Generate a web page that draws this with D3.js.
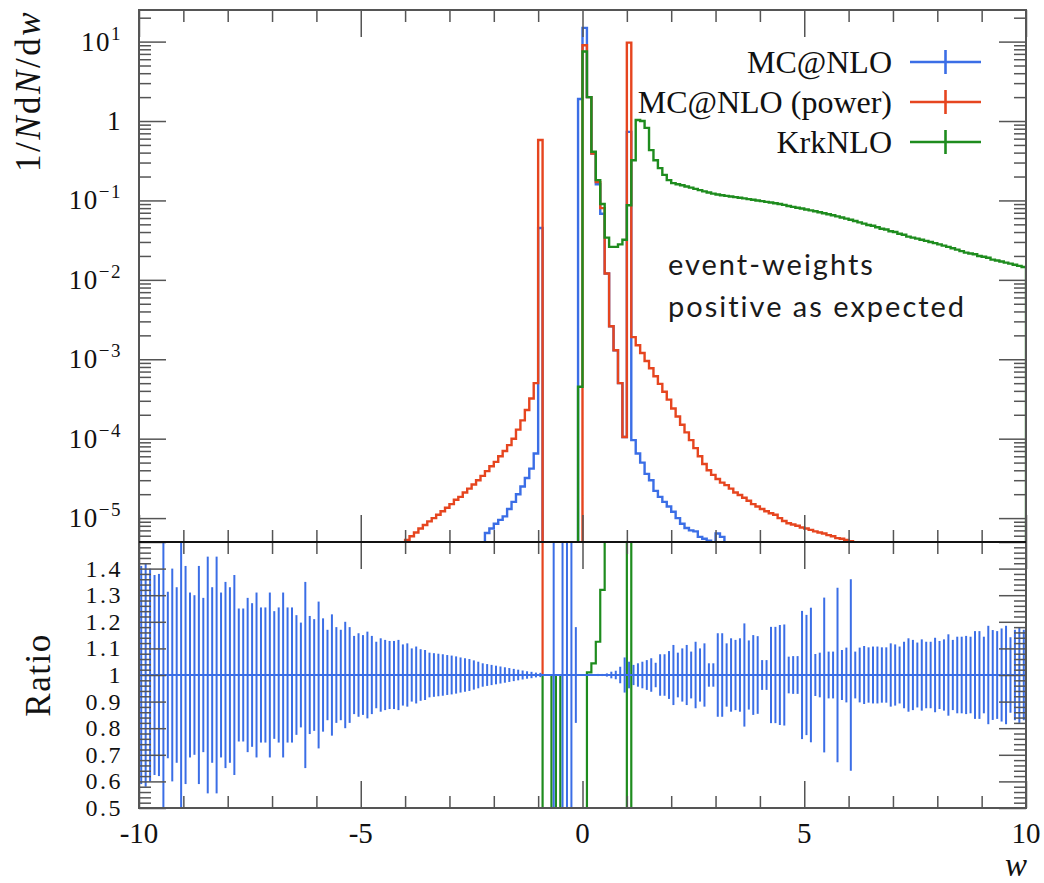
<!DOCTYPE html>
<html><head><meta charset="utf-8">
<script src="https://cdn.jsdelivr.net/npm/d3@7"></script>
<style>
body{margin:0;background:#fff}
.serif{font-family:"Liberation Serif","DejaVu Serif",serif;}
</style></head><body>
<svg id="chart" width="1044" height="883"></svg>
<script>
// ---- histogram data (bin width 0.1, values per bin starting at a lower edge) ----
const binWidth = 0.1;

const mcnloStart = -2.2;
const mcnloValues = [
  6.5e-6, 7.4e-6, 8.5e-6, 9.5e-6, 1.05e-5, 1.3e-5, 1.6e-5, 2.0e-5, 2.5e-5, 3.2e-5, 4.2e-5, 6.5e-5, // -2.2 .. -1.0
  0.045,                                                   // -1.0 .. -0.9
  0, 0, 0, 0, 0, 0, 0, 0,                                  // -0.9 .. -0.1
  1.89, 14.9, 2.0, 0.39, 0.16, 0.068,                      // -0.1 .. 0.5
  0.012, 2.6e-3, 1.3e-3, 5e-4, 1.05e-4,                    // 0.5 .. 1.0
  0.73,                                                    // 1.0 .. 1.1
  9.6e-5, 6.5e-5, 5.0e-5, 3.6e-5, 3.0e-5, 2.2e-5, 1.85e-5, 1.6e-5, 1.4e-5, 1.2e-5,
  1.0e-5, 8.5e-6, 7.5e-6, 7.0e-6, 6.8e-6, 5.8e-6, 5.5e-6, 5.2e-6, 4.5e-6, 6.4e-6, 5.8e-6
];

const powerStart = -4.0;
const powerValues = [
  5.3e-6, 5.9e-6, 6.6e-6, 7.4e-6, 8.2e-6, 9.1e-6, 1.0e-5, 1.1e-5, 1.22e-5, 1.35e-5,
  1.5e-5, 1.7e-5, 1.85e-5, 2.1e-5, 2.35e-5, 2.65e-5, 3.0e-5, 3.4e-5, 3.9e-5, 4.5e-5,
  5.1e-5, 6.0e-5, 7.0e-5, 8.3e-5, 1.0e-4, 1.3e-4, 1.7e-4, 2.3e-4, 3.2e-4, 5.0e-4,   // -4.0 .. -1.0
  0.576,                                                                          // -1.0 .. -0.9
  0, 0, 0, 0, 0, 0, 0, 0,                                                         // -0.9 .. -0.1
  0, 9.0, 2.0, 0.39, 0.17, 0.08,                                                  // -0.1 .. 0.5
  0.012, 2.6e-3, 1.3e-3, 5e-4, 1.05e-4,                                           // 0.5 .. 1.0
  9.7,                                                                            // 1.0 .. 1.1
  1.9e-3, 1.5e-3, 1.2e-3, 9.5e-4, 7.7e-4, 6.1e-4, 4.9e-4, 3.9e-4, 3.1e-4, 2.4e-4,
  1.9e-4, 1.5e-4, 1.2e-4, 9.6e-5, 7.6e-5, 6.0e-5, 4.8e-5, 4.0e-5, 3.5e-5, 3.1e-5,
  2.8e-5, 2.6e-5, 2.35e-5, 2.1e-5, 1.95e-5, 1.8e-5, 1.65e-5, 1.5e-5, 1.4e-5, 1.3e-5,
  1.22e-5, 1.15e-5, 1.1e-5, 1.0e-5, 9.2e-6, 8.6e-6, 8.3e-6, 8.0e-6, 7.6e-6, 7.4e-6,
  7.1e-6, 6.8e-6, 6.6e-6, 6.4e-6, 6.1e-6, 5.9e-6, 5.6e-6, 5.5e-6, 5.3e-6, 5.1e-6
];

const krkStart = -0.1;
const krkValues = [
  4.5e-4, 7.5, 2.0, 0.41, 0.18, 0.09, 0.034, 0.026, 0.026, 0.028, 0.032,          // -0.1 .. 1.0
  0.087, 0.32, 1.03, 1.0, 0.82, 0.43, 0.32, 0.255, 0.21, 0.18, 0.165,             // 1.0 .. 2.1
  0.160, 0.155, 0.150, 0.145, 0.140, 0.135, 0.130, 0.126, 0.122,
  0.119, 0.116, 0.114, 0.112, 0.110, 0.108, 0.106, 0.104, 0.102, 0.100,
  0.098, 0.096, 0.094, 0.092, 0.090, 0.088, 0.085, 0.083, 0.081, 0.079,
  0.077, 0.075, 0.073, 0.071, 0.069, 0.067, 0.065, 0.063, 0.061, 0.059,
  0.057, 0.055, 0.053, 0.051, 0.049, 0.048, 0.046, 0.044, 0.043, 0.041,
  0.040, 0.038, 0.037, 0.035, 0.034, 0.033, 0.032, 0.031, 0.030, 0.029,
  0.028, 0.027, 0.026, 0.025, 0.024, 0.023, 0.022, 0.0215, 0.021, 0.020,
  0.0195, 0.019, 0.018, 0.0175, 0.017, 0.0165, 0.016, 0.0155, 0.015, 0.0145
];

// ---- ratio panel data ----
// relative uncertainty of the MC@NLO reference, one value per bin from -10 to 10
const refErrStart = -10;
const refRelErr = [
  0.41, 0.42, 0.40, 0.376, 0.38, 0.6, 0.313, 0.40, 0.33, 0.6,
  0.41, 0.31, 0.30, 0.41, 0.29, 0.445, 0.33, 0.445, 0.31, 0.35,
  0.33, 0.376, 0.25, 0.25, 0.29, 0.27, 0.31, 0.254, 0.254, 0.31,
  0.24, 0.254, 0.31, 0.254, 0.254, 0.225, 0.197, 0.35, 0.222, 0.21,
  0.276, 0.213, 0.17, 0.228, 0.18, 0.17, 0.20, 0.18, 0.147, 0.157,
  0.15, 0.163, 0.147, 0.125, 0.138, 0.132, 0.128, 0.128, 0.132, 0.115,
  0.119, 0.10, 0.107, 0.097, 0.094, 0.084, 0.082, 0.080, 0.078, 0.075,
  0.073, 0.070, 0.066, 0.063, 0.060, 0.055, 0.050, 0.044, 0.041, 0.038,
  0.035, 0.032, 0.029, 0.026, 0.023, 0.020, 0.017, 0.014, 0.012, 0.009,
  0.008, 0, 0, 0.6, 0, 0.6, 0.6, 0.6, 0.18, 0.003,
  0.002, 0.003, 0.003, 0.004, 0.004, 0.006, 0.0125, 0.016, 0.031, 0.066,
  0.05, 0.038, 0.044, 0.050, 0.056, 0.063, 0.046, 0.078, 0.078, 0.090,
  0.113, 0.084, 0.100, 0.113, 0.088, 0.125, 0.100, 0.119, 0.044, 0.044,
  0.157, 0.157, 0.119, 0.138, 0.132, 0.138, 0.194, 0.13, 0.150, 0.146,
  0.056, 0.056, 0.181, 0.181, 0.188, 0.190, 0.069, 0.071, 0.071, 0.241,
  0.226, 0.253, 0.079, 0.084, 0.291, 0.088, 0.088, 0.328, 0.094, 0.103,
  0.360, 0.088, 0.103, 0.109, 0.104, 0.107, 0.107, 0.104, 0.104, 0.119,
  0.115, 0.107, 0.125, 0.138, 0.132, 0.122, 0.134, 0.125, 0.125, 0.140,
  0.128, 0.134, 0.153, 0.132, 0.144, 0.144, 0.147, 0.144, 0.165, 0.165,
  0.144, 0.185, 0.169, 0.165, 0.175, 0.185, 0.142, 0.17, 0.18, 0.17
];

// ratios to MC@NLO
const powerRatioStart = -1.0;
const powerRatio = [12.8, 1, 1, 1, 1, 1, 1, 1, 1, 1, 1, 1, 1, 1, 1, 1, 1, 1, 1, 1];
const krkRatioStart = -1.0;
const krkRatio = [0, 1, 1, 0, 1, 0, 0, 0, 0, 0, 0.48, 1.01, 1.044, 1.125, 1.32, 2.8, 10, 20, 56, 300, 0.12, 3300];

// axis ticks and labels
const xMajor = [-10, -5, 0, 5, 10];
const xLabels = ["-10", "-5", "0", "5", "10"];
const yMajorExp = [1, 0, -1, -2, -3, -4, -5];
const ratioMajor = [1.4, 1.3, 1.2, 1.1, 1, 0.9, 0.8, 0.7, 0.6, 0.5];
const ratioLabels = ["1.4", "1.3", "1.2", "1.1", "1", "0.9", "0.8", "0.7", "0.6", "0.5"];

const series = [
  {name: "MC@NLO", color: "#3b6ee6"},
  {name: "MC@NLO (power)", color: "#e6451f"},
  {name: "KrkNLO", color: "#1e8c1e"}
];

// ---- layout ----
const X0 = 139, X1 = 1026, TOP = 10, MID = 542, BOT = 808;
const svg = d3.select("#chart");
const x = d3.scaleLinear().domain([-10, 10]).range([X0, X1]);
const y = d3.scaleLog().domain([5e-6, 25]).range([MID, TOP]);
const r = d3.scaleLinear().domain([0.5, 1.5]).range([BOT, MID]);

const defs = svg.append("defs");
defs.append("clipPath").attr("id", "clipTop").append("rect")
  .attr("x", X0).attr("y", TOP).attr("width", X1 - X0).attr("height", MID - TOP);
defs.append("clipPath").attr("id", "clipRatio").append("rect")
  .attr("x", X0).attr("y", MID).attr("width", X1 - X0).attr("height", BOT - MID);

// step outline of a histogram, dropping to the floor at both ends
function stepPoints(start, values, floor) {
  const pts = [[start, floor]];
  values.forEach((v, i) => pts.push([start + i * binWidth, v > 0 ? v : floor]));
  const end = start + values.length * binWidth;
  pts.push([end, values[values.length - 1] > 0 ? values[values.length - 1] : floor]);
  pts.push([end, floor]);
  return pts;
}
function ratioPoints(start, values) {
  const pts = values.map((v, i) => [start + i * binWidth, v]);
  pts.push([start + values.length * binWidth, values[values.length - 1]]);
  return pts;
}

const lineTop = d3.line().x(d => x(d[0])).y(d => y(d[1])).curve(d3.curveStepAfter);
const lineRatio = d3.line().x(d => x(d[0])).y(d => r(Math.max(-5, Math.min(5, d[1])))).curve(d3.curveStepAfter);

// ---- upper panel histograms ----
const gTop = svg.append("g").attr("clip-path", "url(#clipTop)");
const topData = [
  [mcnloStart, mcnloValues, series[0].color],
  [powerStart, powerValues, series[1].color],
  [krkStart, krkValues, series[2].color]
];
topData.forEach(([s, vals, c]) => {
  gTop.append("path").attr("d", lineTop(stepPoints(s, vals, 1e-9)))
    .attr("fill", "none").attr("stroke", c).attr("stroke-width", 2.4).attr("stroke-linejoin", "miter");
});

// ---- ratio panel ----
const gRat = svg.append("g").attr("clip-path", "url(#clipRatio)");
gRat.append("path").attr("d", lineRatio(ratioPoints(powerRatioStart, powerRatio)))
  .attr("fill", "none").attr("stroke", series[1].color).attr("stroke-width", 2.2);
gRat.append("path").attr("d", lineRatio(ratioPoints(krkRatioStart, krkRatio)))
  .attr("fill", "none").attr("stroke", series[2].color).attr("stroke-width", 2.2);
gRat.selectAll("line.err").data(refRelErr).join("line").attr("class", "err")
  .attr("x1", (e, i) => x(refErrStart + (i + 0.5) * binWidth))
  .attr("x2", (e, i) => x(refErrStart + (i + 0.5) * binWidth))
  .attr("y1", e => r(1 + e)).attr("y2", e => r(1 - e))
  .attr("stroke", series[0].color).attr("stroke-width", 2);
gRat.append("line").attr("x1", x(-10)).attr("x2", x(10)).attr("y1", r(1)).attr("y2", r(1))
  .attr("stroke", series[0].color).attr("stroke-width", 2.2);

// ---- ticks ----
const tickColor = "#555";
function drawAxis(axis, tx, ty) {
  const g = svg.append("g").attr("transform", `translate(${tx},${ty})`).call(axis);
  g.select(".domain").remove();
  g.selectAll(".tick line").attr("stroke", tickColor).attr("stroke-width", 1.5);
  g.selectAll(".tick text").remove();
}
const xMinor = d3.range(-9, 10).filter(v => v % 5 !== 0);
[[d3.axisTop, TOP], [d3.axisBottom, MID], [d3.axisTop, MID], [d3.axisBottom, BOT]].forEach(([ax, ty]) => {
  drawAxis(ax(x).tickValues(xMinor).tickSize(-12).tickSizeOuter(0), 0, ty);
  drawAxis(ax(x).tickValues(xMajor).tickSize(-27).tickSizeOuter(0), 0, ty);
});
const yMinor = [];
for (let e = -6; e <= 1; e++) for (let k = 2; k <= 9; k++) {
  const v = k * Math.pow(10, e);
  if (v > 5e-6 && v < 25) yMinor.push(v);
}
const yMajor = yMajorExp.map(e => Math.pow(10, e));
[[d3.axisLeft, X0], [d3.axisRight, X1]].forEach(([ax, tx]) => {
  drawAxis(ax(y).tickValues(yMinor).tickSize(-12).tickSizeOuter(0), tx, 0);
  drawAxis(ax(y).tickValues(yMajor).tickSize(-27).tickSizeOuter(0), tx, 0);
});
const rMinor = d3.range(26, 75).map(i => i * 0.02).filter(v => Math.abs(v * 10 - Math.round(v * 10)) > 1e-6);
const rMajorAll = d3.range(5, 16).map(i => i / 10);
[[d3.axisLeft, X0], [d3.axisRight, X1]].forEach(([ax, tx]) => {
  drawAxis(ax(r).tickValues(rMinor).tickSize(-12).tickSizeOuter(0), tx, 0);
  drawAxis(ax(r).tickValues(rMajorAll).tickSize(-27).tickSizeOuter(0), tx, 0);
});

// ---- frame ----
svg.append("rect").attr("x", X0).attr("y", TOP).attr("width", X1 - X0).attr("height", BOT - TOP)
  .attr("fill", "none").attr("stroke", "#555").attr("stroke-width", 2);
svg.append("line").attr("x1", X0).attr("x2", X1).attr("y1", MID).attr("y2", MID)
  .attr("stroke", "#111").attr("stroke-width", 1.8);

function serifText(sel) {
  return sel.append("text").attr("class", "serif").attr("fill", "#111");
}

// ---- tick labels ----
yMajorExp.forEach(e => {
  const t = serifText(svg).attr("x", 122).attr("y", y(Math.pow(10, e)) + 9)
    .attr("text-anchor", "end").attr("font-size", 27).style("letter-spacing", "1.5px");
  if (e === 0) { t.text("1"); return; }
  t.append("tspan").text("10");
  t.append("tspan").attr("dy", -11).attr("font-size", 19).text(e < 0 ? "\u2212" + (-e) : String(e));
});
ratioMajor.forEach((v, i) => {
  serifText(svg).attr("x", 123).attr("y", r(v) + 8).attr("text-anchor", "end")
    .attr("font-size", 24).style("letter-spacing", "2.5px").text(ratioLabels[i]);
});
xMajor.forEach((v, i) => {
  serifText(svg).attr("x", x(v)).attr("y", 843).attr("text-anchor", "middle")
    .attr("font-size", 29).text(xLabels[i]);
});

// ---- axis titles ----
const yl = serifText(svg).attr("transform", "translate(40,10) rotate(-90)")
  .attr("text-anchor", "end").attr("font-size", 35).style("letter-spacing", "2.5px");
[["1/", false], ["N", true], ["d", false], ["N", true], ["/d", false], ["w", true]].forEach(([s, it]) => {
  yl.append("tspan").attr("font-style", it ? "italic" : "normal").text(s);
});
serifText(svg).attr("transform", "translate(50,675) rotate(-90)").attr("text-anchor", "middle")
  .attr("font-size", 35).style("letter-spacing", "1.5px").text("Ratio");
serifText(svg).attr("x", 1016).attr("y", 876).attr("text-anchor", "middle")
  .attr("font-size", 33).attr("font-style", "italic").text("w");

// ---- legend ----
series.forEach((s, i) => {
  const ly = 62 + i * 40;
  serifText(svg).attr("x", 892).attr("y", ly + 11).attr("text-anchor", "end")
    .attr("font-size", 32).text(s.name);
  svg.append("line").attr("x1", 910).attr("x2", 981).attr("y1", ly).attr("y2", ly)
    .attr("stroke", s.color).attr("stroke-width", 2.6);
  svg.append("line").attr("x1", 945.5).attr("x2", 945.5).attr("y1", ly - 12).attr("y2", ly + 12)
    .attr("stroke", s.color).attr("stroke-width", 2.6);
});

// ---- annotation ----
const note = svg.append("text").attr("font-size", 29).style("font-family", "Lato, 'Open Sans', sans-serif")
  .style("letter-spacing", "2px").attr("fill", "#1a1a1a");
note.append("tspan").attr("x", 668).attr("y", 275).text("event-weights");
note.append("tspan").attr("x", 668).attr("y", 317).text("positive as expected");
</script>
</body></html>
